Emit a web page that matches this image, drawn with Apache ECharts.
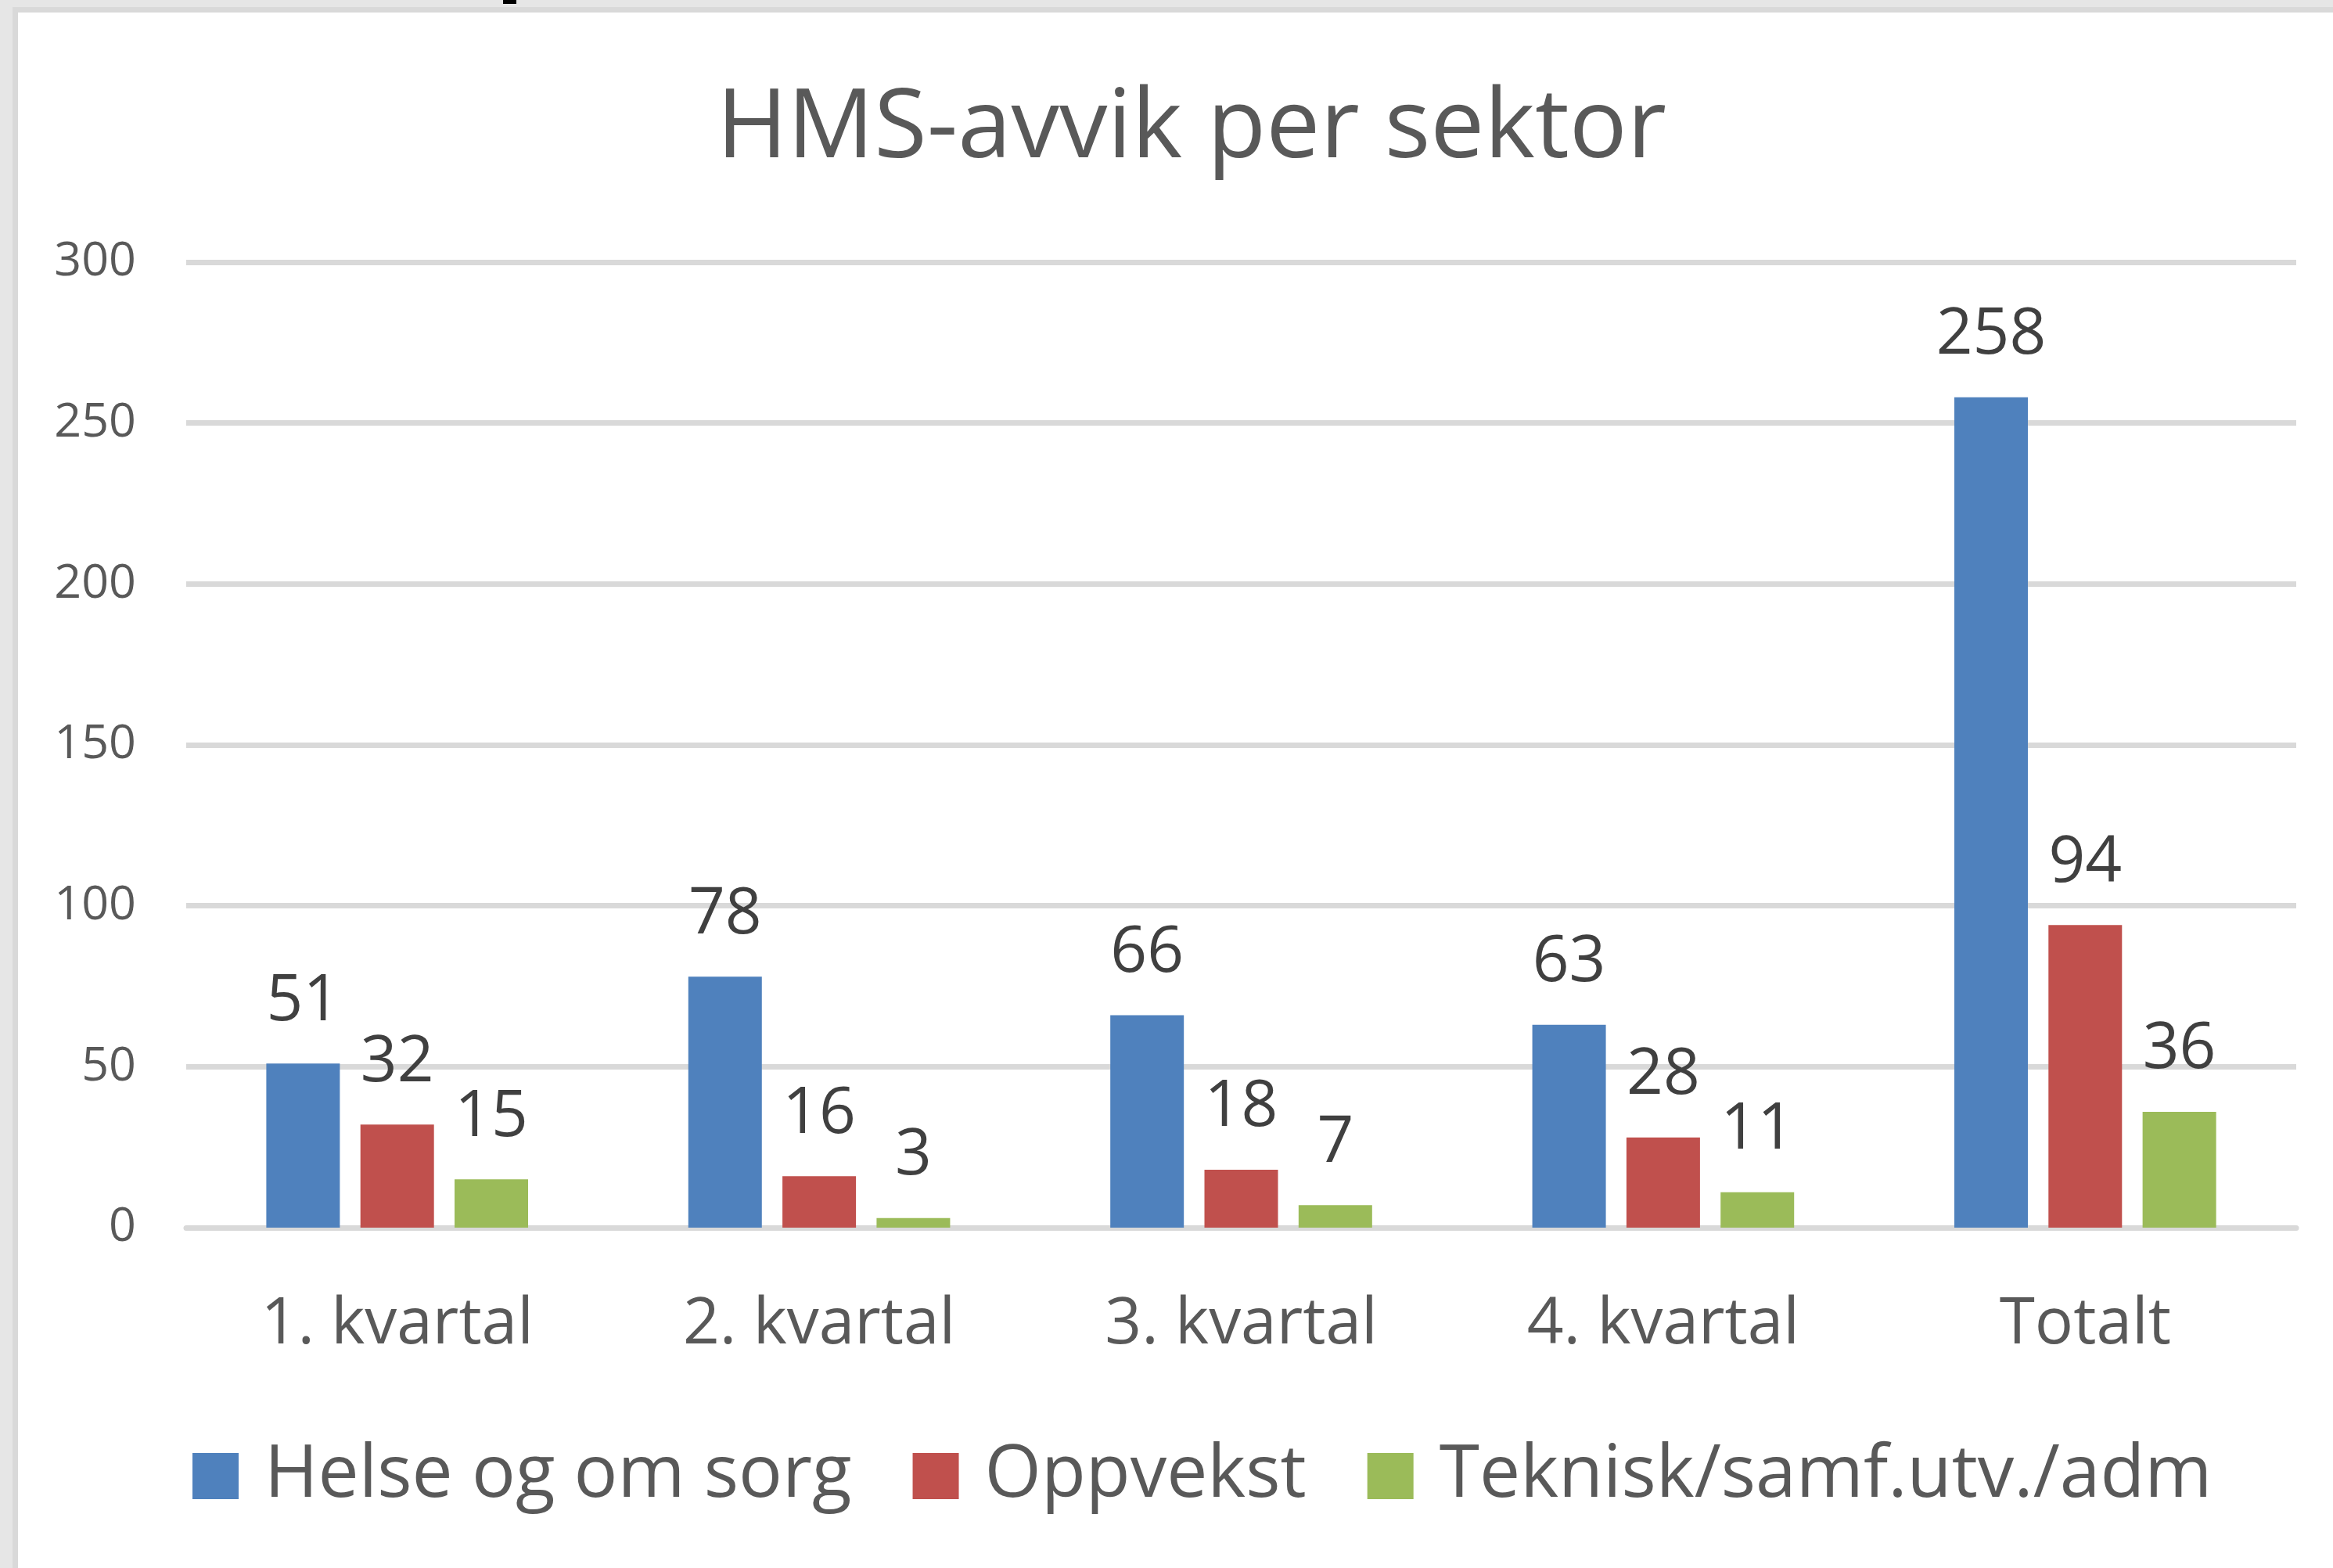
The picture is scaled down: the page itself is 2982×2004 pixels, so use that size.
<!DOCTYPE html>
<html>
<head>
<meta charset="utf-8">
<title>HMS-avvik per sektor</title>
<script src="https://cdn.jsdelivr.net/npm/echarts@6.0.0/dist/echarts.min.js"></script>
<style>
  html, body {
    margin: 0;
    padding: 0;
    background: #e6e6e6;
    overflow: hidden;
  }
  .frame {
    position: absolute;
    left: 16px;
    top: 9px;
    width: 2966px;
    height: 1995px;
    background: #d9d9d9;
  }
  .inner {
    position: absolute;
    left: 23px;
    top: 16px;
    width: 2959px;
    height: 1988px;
    background: #fff;
  }
  /* liten svart bit øverst (rest av avskåret tekst) */
  .topMark {
    position: absolute;
    left: 643px;
    top: 0;
    width: 17px;
    height: 5px;
    background: #000;
  }
  #chart {
    position: absolute;
    left: 0;
    top: 0;
    width: 2982px;
    height: 2004px;
  }
</style>
</head>
<body>
<div class="frame"></div>
<div class="inner"></div>
<div class="topMark"></div>
<div id="chart"></div>
<script>
  // kategorier og verdier
  const categories = ['1. kvartal', '2. kvartal', '3. kvartal', '4. kvartal', 'Totalt']
  const seriesNames = ['Helse og om sorg', 'Oppvekst', 'Teknisk/samf.utv./adm']
  const helseData = [51, 78, 66, 63, 258]
  const oppvekstData = [32, 16, 18, 28, 94]
  const tekniskData = [15, 3, 7, 11, 36]
  const colors = ['#4f81bd', '#c0504d', '#9bbb59']

  const font = 'Open Sans'

  const barLabel = {
    show: true,
    position: 'top',
    distance: 38,
    color: '#404040',
    fontFamily: font,
    fontSize: 82
  }

  function makeSeries(name, data, color) {
    return {
      name: name,
      type: 'bar',
      data: data,
      barWidth: 94,
      barGap: '28%',
      itemStyle: {
        color: color
      },
      label: barLabel
    }
  }

  const chart = echarts.init(document.getElementById('chart'), null, { renderer: 'canvas' })

  const option = {
    backgroundColor: 'transparent',
    animation: false,
    title: {
      text: 'HMS-avvik per sektor',
      left: 1518,
      top: 99,
      textAlign: 'center',
      textStyle: {
        fontFamily: font,
        fontSize: 123,
        fontWeight: 'normal',
        color: '#595959'
      }
    },
    legend: {
      data: seriesNames,
      left: 241,
      top: 1835,
      icon: 'rect',
      itemWidth: 59,
      itemHeight: 59,
      itemGap: 78,
      textStyle: {
        fontFamily: font,
        fontSize: 93,
        color: '#595959',
        padding: [0, 0, 0, 28]
      }
    },
    grid: {
      left: 238,
      right: 47,
      top: 335,
      bottom: 435,
      containLabel: false
    },
    xAxis: {
      type: 'category',
      data: categories,
      axisTick: {
        show: false
      },
      axisLine: {
        show: true,
        lineStyle: {
          color: '#d9d9d9',
          width: 7
        }
      },
      axisLabel: {
        margin: 84,
        fontFamily: font,
        fontSize: 82,
        color: '#595959'
      }
    },
    yAxis: {
      type: 'value',
      min: 0,
      max: 300,
      interval: 50,
      axisLine: {
        show: false
      },
      axisTick: {
        show: false
      },
      axisLabel: {
        margin: 64,
        fontFamily: font,
        fontSize: 61,
        color: '#595959',
        padding: [8, 0, 0, 0]
      },
      splitLine: {
        lineStyle: {
          color: '#d9d9d9',
          width: 7
        }
      }
    },
    series: [
      makeSeries(seriesNames[0], helseData, colors[0]),
      makeSeries(seriesNames[1], oppvekstData, colors[1]),
      makeSeries(seriesNames[2], tekniskData, colors[2])
    ]
  }

  chart.setOption(option)
</script>
</body>
</html>
